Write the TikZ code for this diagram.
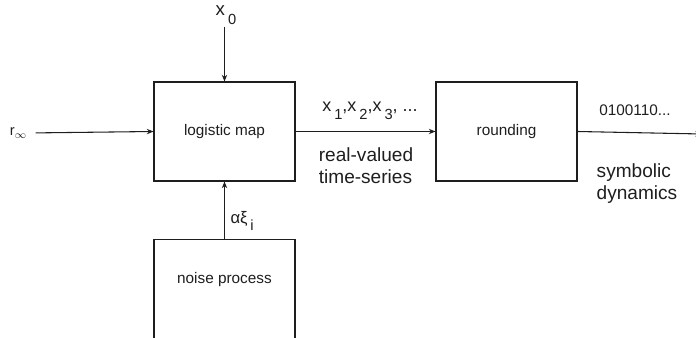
\documentclass[tikz,border=0pt]{standalone}
\usepackage{fontspec}
\setmainfont{Liberation Sans}
\usepackage{tikz}
\usetikzlibrary{arrows.meta,calc}
\definecolor{Trazo}{RGB}{30,30,30}
\newcommand{\lowsub}[2][-0.45ex]{\,\raisebox{#1}{\fontsize{11}{12}\selectfont #2}}

\begin{document}
\begin{tikzpicture}[>={Stealth[length=5pt,width=4pt]},x=0.75pt,y=-0.75pt,
  bloque/.style={draw=Trazo,line width=0.8pt,minimum width=105.75pt,minimum height=74.25pt,
    inner sep=0pt,font=\fontsize{11.5}{13}\selectfont,text=Trazo},
  flecha/.style={->,draw=Trazo,line width=0.8pt},
  etiqueta/.style={text=Trazo,inner sep=1pt},
  grande/.style={etiqueta,font=\fontsize{14.3}{16.5}\selectfont}]
  \clip (0,0) rectangle (696,338);
  \node[bloque] (logistic) at (224.5,131.5) {logistic map};
  \node[bloque] (rounding) at (506.5,131.5) {rounding};
  \node[bloque,minimum height=80pt,text depth=22pt] (noise) at (224.5,293) {noise process};
  \node[grande,font=\fontsize{14}{16}\selectfont] (x0) at (226,15) {x\lowsub[-0.9ex]{0}};
  \node[etiqueta,font=\fontsize{11}{12}\selectfont] (rin) at (18,133) {r\raisebox{-0.35ex}{$\scriptstyle\infty$}};
  \node[etiqueta,font=\fontsize{13.5}{15}\selectfont] (xseq) at (370,111)
    {x\lowsub[-0.9ex]{1},x\lowsub[-0.9ex]{2},x\lowsub[-0.9ex]{3}, ...};
  \node[grande,align=left] (real) at (366,166) {real-valued\\time-series};
  \node[etiqueta,font=\fontsize{11.5}{13}\selectfont] (bits) at (635,110) {0100110...};
  \node[grande,align=left] (symb) at (637,184) {symbolic\\dynamics};
  \node[etiqueta,font=\fontsize{12.5}{14}\selectfont,anchor=west] (noiseval) at (229,221) {αξ\lowsub[-0.9ex]{i}};
  \coordinate (out) at (702,134);
  % conexiones
  \draw[flecha] (logistic.north |- 0,27) -- (logistic.north);
  \draw[flecha,shorten <=6pt] (rin.east) -- (logistic.west);
  \draw[flecha] (noise.north) -- (logistic.south);
  \draw[flecha] (logistic.east) -- (rounding.west);
  \draw[flecha] (rounding.east) -- (out);
\end{tikzpicture}
\end{document}
